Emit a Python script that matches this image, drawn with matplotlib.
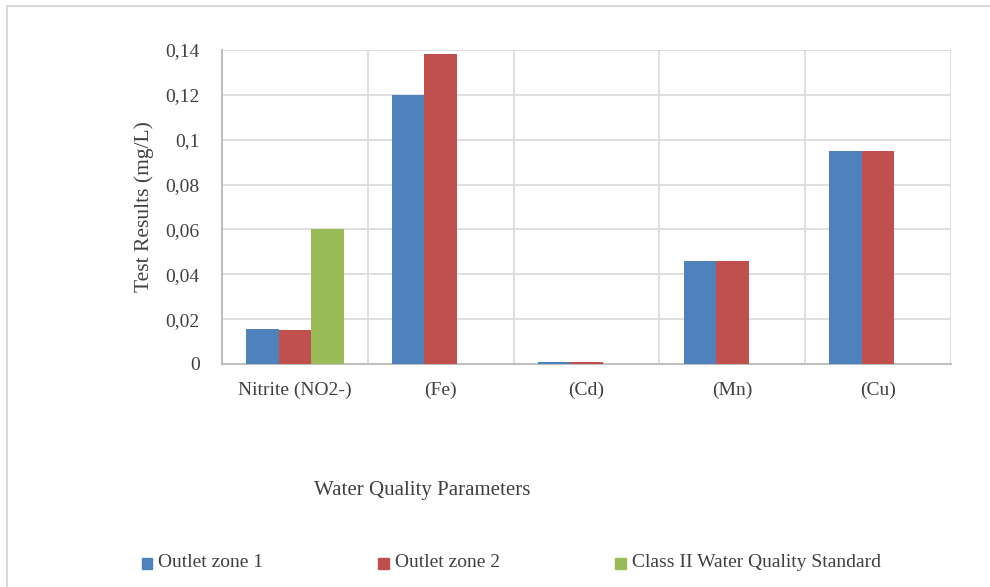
import matplotlib.pyplot as plt
import numpy as np
from matplotlib.lines import Line2D

plt.rcParams['font.family'] = ['Liberation Serif', 'DejaVu Serif']

categories = ['Nitrite (NO2-)', '(Fe)', '(Cd)', '(Mn)', '(Cu)']
zone1 = [0.0156, 0.120, 0.001, 0.046, 0.095]
zone2 = [0.0152, 0.138, 0.001, 0.046, 0.095]
standard = [0.060, 0, 0, 0, 0]
yticks = [0, 0.02, 0.04, 0.06, 0.08, 0.1, 0.12, 0.14]
ytick_labels = ['0', '0,02', '0,04', '0,06', '0,08', '0,1', '0,12', '0,14']

fig = plt.figure(figsize=(9.9, 5.87), dpi=100)
ax = fig.add_axes([0.2242, 0.3799, 0.7364, 0.5349])

x = np.arange(len(categories))
w = 0.223
ax.bar(x - w, zone1, w, color='#4f81bd', label='Outlet zone 1', zorder=3)
ax.bar(x, zone2, w, color='#c0504d', label='Outlet zone 2', zorder=3)
ax.bar(x + w, standard, w, color='#9bbb59', label='Class II Water Quality Standard', zorder=3)

ax.set_xlim(-0.5, len(categories) - 0.5)
ax.set_ylim(0, 0.14)
ax.set_yticks(yticks)
ax.set_yticklabels(ytick_labels, fontsize=14, color='#404040')
ax.set_xticks(x)
ax.set_xticklabels(categories, fontsize=14, color='#404040')
ax.tick_params(axis='x', length=0, pad=13)
ax.tick_params(axis='y', length=0, pad=16)

# grid lines: horizontal at ticks, vertical at category boundaries
for yv in yticks[1:]:
    ax.axhline(yv, color='#d9d9d9', lw=1.2, zorder=1)
for xb in np.arange(0.5, len(categories), 1.0):
    ax.axvline(xb, color='#d9d9d9', lw=1.2, zorder=1)

for s in ['top', 'right']:
    ax.spines[s].set_visible(False)
ax.spines['left'].set_color('#bfbfbf')
ax.spines['left'].set_linewidth(1.5)
ax.spines['bottom'].set_color('#bfbfbf')
ax.spines['bottom'].set_linewidth(1.5)

ax.set_ylabel('Test Results (mg/L)', fontsize=15.5, color='#404040', labelpad=8)
fig.text(0.426, 0.165, 'Water Quality Parameters', fontsize=15, color='#404040',
         ha='center', va='center')

handles, labels = ax.get_legend_handles_labels()
xs = [0.143, 0.382, 0.621]
for h, lab, xp in zip(handles, labels, xs):
    fig.patches.append(plt.Rectangle((xp, 0.031), 0.011, 0.019, transform=fig.transFigure,
                                     color=h.patches[0].get_facecolor(), figure=fig))
    fig.text(xp + 0.017, 0.041, lab, fontsize=14, color='#404040', va='center')

# outer frame (top and left edges)
fig.add_artist(Line2D([0.007, 1.0], [0.990, 0.990], transform=fig.transFigure,
                      color='#d9d9d9', lw=1.5))
fig.add_artist(Line2D([0.007, 0.007], [0.0, 0.990], transform=fig.transFigure,
                      color='#d9d9d9', lw=1.5))

plt.savefig('out.png', dpi=100)
